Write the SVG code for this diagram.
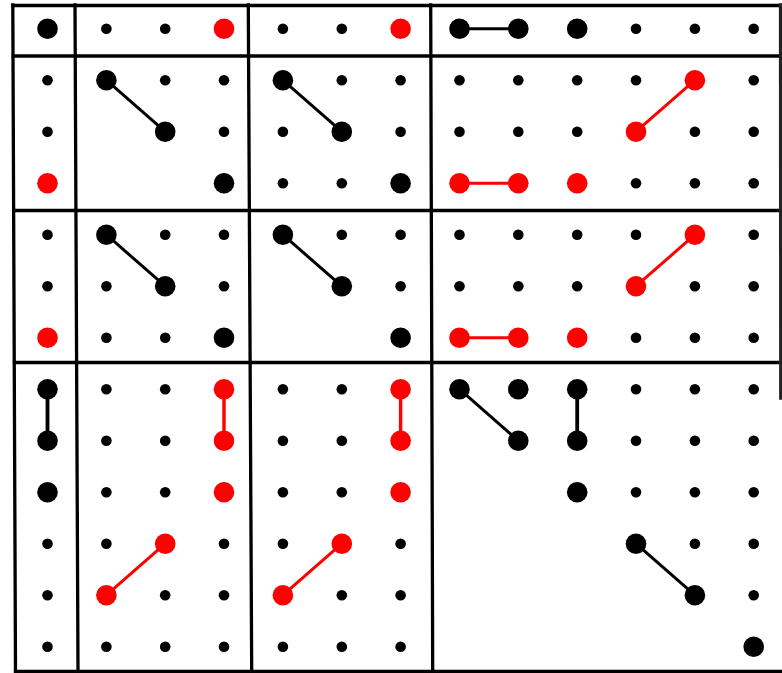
<svg xmlns="http://www.w3.org/2000/svg" width="782" height="673" viewBox="0 0 782 673">
<style>
.frame line{stroke:#000;stroke-width:3.3;stroke-linecap:square}
.s{fill:#000}
.b{fill:#000}
.r{fill:#ff0000}
.ck{stroke:#000;stroke-width:3;fill:none}
.cr{stroke:#ff0000;stroke-width:3;fill:none}
</style>
<rect width="782" height="673" fill="#fff"/>
<g id="frame" class="frame">
<line x1="13" y1="5.5" x2="780.5" y2="5.5"/>
<line x1="13.3" y1="56" x2="780.5" y2="56"/>
<line x1="14" y1="210.5" x2="782" y2="210.5"/>
<line x1="14.5" y1="362.5" x2="782" y2="362.5"/>
<line x1="15.5" y1="671.5" x2="782" y2="671.5"/>
<line x1="12.8" y1="5" x2="15.5" y2="671"/>
<line x1="75" y1="5" x2="78" y2="671"/>
<line x1="248.3" y1="5" x2="251.7" y2="671"/>
<line x1="430.7" y1="5" x2="432.7" y2="671"/>
<line x1="780.5" y1="5" x2="780.8" y2="398" style="stroke:#222"/>
</g>
<g id="connectors">
<line class="ck" x1="459.5" y1="28.7" x2="518.3" y2="28.7"/>
<line class="ck" x1="106.4" y1="80.2" x2="165.2" y2="131.7"/>
<line class="ck" x1="282.9" y1="80.2" x2="341.8" y2="131.7"/>
<line class="ck" x1="106.4" y1="234.7" x2="165.2" y2="286.2"/>
<line class="ck" x1="282.9" y1="234.7" x2="341.8" y2="286.2"/>
<line class="ck" x1="47.5" y1="389.2" x2="47.5" y2="440.7" style="stroke-width:3.8"/>
<line class="ck" x1="459.5" y1="389.2" x2="518.3" y2="440.7"/>
<line class="ck" x1="577.2" y1="389.2" x2="577.2" y2="440.7" style="stroke-width:3.8"/>
<line class="ck" x1="636" y1="543.7" x2="694.9" y2="595.2"/>
<line class="cr" x1="694.9" y1="80.2" x2="636" y2="131.7"/>
<line class="cr" x1="459.5" y1="183.2" x2="518.3" y2="183.2"/>
<line class="cr" x1="694.9" y1="234.7" x2="636" y2="286.2"/>
<line class="cr" x1="459.5" y1="337.7" x2="518.3" y2="337.7"/>
<line class="cr" x1="224" y1="389.2" x2="224" y2="440.7" style="stroke-width:3.4"/>
<line class="cr" x1="400.6" y1="389.2" x2="400.6" y2="440.7" style="stroke-width:3.4"/>
<line class="cr" x1="165.2" y1="543.7" x2="106.4" y2="595.2"/>
<line class="cr" x1="341.8" y1="543.7" x2="282.9" y2="595.2"/>
</g>
<g id="nodes">
<!-- row 0 -->
<g id="n0-0"><circle class="b" cx="47.5" cy="28.7" r="10.3"/></g>
<g id="n0-1"><circle class="s" cx="106.4" cy="28.7" r="5.3"/></g>
<g id="n0-2"><circle class="s" cx="165.2" cy="28.7" r="5.3"/></g>
<g id="n0-3"><circle class="r" cx="224" cy="28.7" r="10.3"/></g>
<g id="n0-4"><circle class="s" cx="282.9" cy="28.7" r="5.3"/></g>
<g id="n0-5"><circle class="s" cx="341.8" cy="28.7" r="5.3"/></g>
<g id="n0-6"><circle class="r" cx="400.6" cy="28.7" r="10.3"/></g>
<g id="n0-7"><circle class="b" cx="459.5" cy="28.7" r="10.3"/></g>
<g id="n0-8"><circle class="b" cx="518.3" cy="28.7" r="10.3"/></g>
<g id="n0-9"><circle class="b" cx="577.2" cy="28.7" r="10.3"/></g>
<g id="n0-10"><circle class="s" cx="636" cy="28.7" r="5.3"/></g>
<g id="n0-11"><circle class="s" cx="694.9" cy="28.7" r="5.3"/></g>
<g id="n0-12"><circle class="s" cx="753.7" cy="28.7" r="5.3"/></g>
<!-- row 1 -->
<g id="n1-0"><circle class="s" cx="47.5" cy="80.2" r="5.3"/></g>
<g id="n1-1"><circle class="b" cx="106.4" cy="80.2" r="10.3"/></g>
<g id="n1-2"><circle class="s" cx="165.2" cy="80.2" r="5.3"/></g>
<g id="n1-3"><circle class="s" cx="224" cy="80.2" r="5.3"/></g>
<g id="n1-4"><circle class="b" cx="282.9" cy="80.2" r="10.3"/></g>
<g id="n1-5"><circle class="s" cx="341.8" cy="80.2" r="5.3"/></g>
<g id="n1-6"><circle class="s" cx="400.6" cy="80.2" r="5.3"/></g>
<g id="n1-7"><circle class="s" cx="459.5" cy="80.2" r="5.3"/></g>
<g id="n1-8"><circle class="s" cx="518.3" cy="80.2" r="5.3"/></g>
<g id="n1-9"><circle class="s" cx="577.2" cy="80.2" r="5.3"/></g>
<g id="n1-10"><circle class="s" cx="636" cy="80.2" r="5.3"/></g>
<g id="n1-11"><circle class="r" cx="694.9" cy="80.2" r="10.3"/></g>
<g id="n1-12"><circle class="s" cx="753.7" cy="80.2" r="5.3"/></g>
<!-- row 2 -->
<g id="n2-0"><circle class="s" cx="47.5" cy="131.7" r="5.3"/></g>
<g id="n2-2"><circle class="b" cx="165.2" cy="131.7" r="10.3"/></g>
<g id="n2-3"><circle class="s" cx="224" cy="131.7" r="5.3"/></g>
<g id="n2-4"><circle class="s" cx="282.9" cy="131.7" r="5.3"/></g>
<g id="n2-5"><circle class="b" cx="341.8" cy="131.7" r="10.3"/></g>
<g id="n2-6"><circle class="s" cx="400.6" cy="131.7" r="5.3"/></g>
<g id="n2-7"><circle class="s" cx="459.5" cy="131.7" r="5.3"/></g>
<g id="n2-8"><circle class="s" cx="518.3" cy="131.7" r="5.3"/></g>
<g id="n2-9"><circle class="s" cx="577.2" cy="131.7" r="5.3"/></g>
<g id="n2-10"><circle class="r" cx="636" cy="131.7" r="10.3"/></g>
<g id="n2-11"><circle class="s" cx="694.9" cy="131.7" r="5.3"/></g>
<g id="n2-12"><circle class="s" cx="753.7" cy="131.7" r="5.3"/></g>
<!-- row 3 -->
<g id="n3-0"><circle class="r" cx="47.5" cy="183.2" r="10.3"/></g>
<g id="n3-3"><circle class="b" cx="224" cy="183.2" r="10.3"/></g>
<g id="n3-4"><circle class="s" cx="282.9" cy="183.2" r="5.3"/></g>
<g id="n3-5"><circle class="s" cx="341.8" cy="183.2" r="5.3"/></g>
<g id="n3-6"><circle class="b" cx="400.6" cy="183.2" r="10.3"/></g>
<g id="n3-7"><circle class="r" cx="459.5" cy="183.2" r="10.3"/></g>
<g id="n3-8"><circle class="r" cx="518.3" cy="183.2" r="10.3"/></g>
<g id="n3-9"><circle class="r" cx="577.2" cy="183.2" r="10.3"/></g>
<g id="n3-10"><circle class="s" cx="636" cy="183.2" r="5.3"/></g>
<g id="n3-11"><circle class="s" cx="694.9" cy="183.2" r="5.3"/></g>
<g id="n3-12"><circle class="s" cx="753.7" cy="183.2" r="5.3"/></g>
<!-- row 4 -->
<g id="n4-0"><circle class="s" cx="47.5" cy="234.7" r="5.3"/></g>
<g id="n4-1"><circle class="b" cx="106.4" cy="234.7" r="10.3"/></g>
<g id="n4-2"><circle class="s" cx="165.2" cy="234.7" r="5.3"/></g>
<g id="n4-3"><circle class="s" cx="224" cy="234.7" r="5.3"/></g>
<g id="n4-4"><circle class="b" cx="282.9" cy="234.7" r="10.3"/></g>
<g id="n4-5"><circle class="s" cx="341.8" cy="234.7" r="5.3"/></g>
<g id="n4-6"><circle class="s" cx="400.6" cy="234.7" r="5.3"/></g>
<g id="n4-7"><circle class="s" cx="459.5" cy="234.7" r="5.3"/></g>
<g id="n4-8"><circle class="s" cx="518.3" cy="234.7" r="5.3"/></g>
<g id="n4-9"><circle class="s" cx="577.2" cy="234.7" r="5.3"/></g>
<g id="n4-10"><circle class="s" cx="636" cy="234.7" r="5.3"/></g>
<g id="n4-11"><circle class="r" cx="694.9" cy="234.7" r="10.3"/></g>
<g id="n4-12"><circle class="s" cx="753.7" cy="234.7" r="5.3"/></g>
<!-- row 5 -->
<g id="n5-0"><circle class="s" cx="47.5" cy="286.2" r="5.3"/></g>
<g id="n5-1"><circle class="s" cx="106.4" cy="286.2" r="5.3"/></g>
<g id="n5-2"><circle class="b" cx="165.2" cy="286.2" r="10.3"/></g>
<g id="n5-3"><circle class="s" cx="224" cy="286.2" r="5.3"/></g>
<g id="n5-5"><circle class="b" cx="341.8" cy="286.2" r="10.3"/></g>
<g id="n5-6"><circle class="s" cx="400.6" cy="286.2" r="5.3"/></g>
<g id="n5-7"><circle class="s" cx="459.5" cy="286.2" r="5.3"/></g>
<g id="n5-8"><circle class="s" cx="518.3" cy="286.2" r="5.3"/></g>
<g id="n5-9"><circle class="s" cx="577.2" cy="286.2" r="5.3"/></g>
<g id="n5-10"><circle class="r" cx="636" cy="286.2" r="10.3"/></g>
<g id="n5-11"><circle class="s" cx="694.9" cy="286.2" r="5.3"/></g>
<g id="n5-12"><circle class="s" cx="753.7" cy="286.2" r="5.3"/></g>
<!-- row 6 -->
<g id="n6-0"><circle class="r" cx="47.5" cy="337.7" r="10.3"/></g>
<g id="n6-1"><circle class="s" cx="106.4" cy="337.7" r="5.3"/></g>
<g id="n6-2"><circle class="s" cx="165.2" cy="337.7" r="5.3"/></g>
<g id="n6-3"><circle class="b" cx="224" cy="337.7" r="10.3"/></g>
<g id="n6-6"><circle class="b" cx="400.6" cy="337.7" r="10.3"/></g>
<g id="n6-7"><circle class="r" cx="459.5" cy="337.7" r="10.3"/></g>
<g id="n6-8"><circle class="r" cx="518.3" cy="337.7" r="10.3"/></g>
<g id="n6-9"><circle class="r" cx="577.2" cy="337.7" r="10.3"/></g>
<g id="n6-10"><circle class="s" cx="636" cy="337.7" r="5.3"/></g>
<g id="n6-11"><circle class="s" cx="694.9" cy="337.7" r="5.3"/></g>
<g id="n6-12"><circle class="s" cx="753.7" cy="337.7" r="5.3"/></g>
<!-- row 7 -->
<g id="n7-0"><circle class="b" cx="47.5" cy="389.2" r="10.3"/></g>
<g id="n7-1"><circle class="s" cx="106.4" cy="389.2" r="5.3"/></g>
<g id="n7-2"><circle class="s" cx="165.2" cy="389.2" r="5.3"/></g>
<g id="n7-3"><circle class="r" cx="224" cy="389.2" r="10.3"/></g>
<g id="n7-4"><circle class="s" cx="282.9" cy="389.2" r="5.3"/></g>
<g id="n7-5"><circle class="s" cx="341.8" cy="389.2" r="5.3"/></g>
<g id="n7-6"><circle class="r" cx="400.6" cy="389.2" r="10.3"/></g>
<g id="n7-7"><circle class="b" cx="459.5" cy="389.2" r="10.3"/></g>
<g id="n7-8"><circle class="b" cx="518.3" cy="389.2" r="10.3"/></g>
<g id="n7-9"><circle class="b" cx="577.2" cy="389.2" r="10.3"/></g>
<g id="n7-10"><circle class="s" cx="636" cy="389.2" r="5.3"/></g>
<g id="n7-11"><circle class="s" cx="694.9" cy="389.2" r="5.3"/></g>
<g id="n7-12"><circle class="s" cx="753.7" cy="389.2" r="5.3"/></g>
<!-- row 8 -->
<g id="n8-0"><circle class="b" cx="47.5" cy="440.7" r="10.3"/></g>
<g id="n8-1"><circle class="s" cx="106.4" cy="440.7" r="5.3"/></g>
<g id="n8-2"><circle class="s" cx="165.2" cy="440.7" r="5.3"/></g>
<g id="n8-3"><circle class="r" cx="224" cy="440.7" r="10.3"/></g>
<g id="n8-4"><circle class="s" cx="282.9" cy="440.7" r="5.3"/></g>
<g id="n8-5"><circle class="s" cx="341.8" cy="440.7" r="5.3"/></g>
<g id="n8-6"><circle class="r" cx="400.6" cy="440.7" r="10.3"/></g>
<g id="n8-8"><circle class="b" cx="518.3" cy="440.7" r="10.3"/></g>
<g id="n8-9"><circle class="b" cx="577.2" cy="440.7" r="10.3"/></g>
<g id="n8-10"><circle class="s" cx="636" cy="440.7" r="5.3"/></g>
<g id="n8-11"><circle class="s" cx="694.9" cy="440.7" r="5.3"/></g>
<g id="n8-12"><circle class="s" cx="753.7" cy="440.7" r="5.3"/></g>
<!-- row 9 -->
<g id="n9-0"><circle class="b" cx="47.5" cy="492.2" r="10.3"/></g>
<g id="n9-1"><circle class="s" cx="106.4" cy="492.2" r="5.3"/></g>
<g id="n9-2"><circle class="s" cx="165.2" cy="492.2" r="5.3"/></g>
<g id="n9-3"><circle class="r" cx="224" cy="492.2" r="10.3"/></g>
<g id="n9-4"><circle class="s" cx="282.9" cy="492.2" r="5.3"/></g>
<g id="n9-5"><circle class="s" cx="341.8" cy="492.2" r="5.3"/></g>
<g id="n9-6"><circle class="r" cx="400.6" cy="492.2" r="10.3"/></g>
<g id="n9-9"><circle class="b" cx="577.2" cy="492.2" r="10.3"/></g>
<g id="n9-10"><circle class="s" cx="636" cy="492.2" r="5.3"/></g>
<g id="n9-11"><circle class="s" cx="694.9" cy="492.2" r="5.3"/></g>
<g id="n9-12"><circle class="s" cx="753.7" cy="492.2" r="5.3"/></g>
<!-- row 10 -->
<g id="n10-0"><circle class="s" cx="47.5" cy="543.7" r="5.3"/></g>
<g id="n10-1"><circle class="s" cx="106.4" cy="543.7" r="5.3"/></g>
<g id="n10-2"><circle class="r" cx="165.2" cy="543.7" r="10.3"/></g>
<g id="n10-3"><circle class="s" cx="224" cy="543.7" r="5.3"/></g>
<g id="n10-4"><circle class="s" cx="282.9" cy="543.7" r="5.3"/></g>
<g id="n10-5"><circle class="r" cx="341.8" cy="543.7" r="10.3"/></g>
<g id="n10-6"><circle class="s" cx="400.6" cy="543.7" r="5.3"/></g>
<g id="n10-10"><circle class="b" cx="636" cy="543.7" r="10.3"/></g>
<g id="n10-11"><circle class="s" cx="694.9" cy="543.7" r="5.3"/></g>
<g id="n10-12"><circle class="s" cx="753.7" cy="543.7" r="5.3"/></g>
<!-- row 11 -->
<g id="n11-0"><circle class="s" cx="47.5" cy="595.2" r="5.3"/></g>
<g id="n11-1"><circle class="r" cx="106.4" cy="595.2" r="10.3"/></g>
<g id="n11-2"><circle class="s" cx="165.2" cy="595.2" r="5.3"/></g>
<g id="n11-3"><circle class="s" cx="224" cy="595.2" r="5.3"/></g>
<g id="n11-4"><circle class="r" cx="282.9" cy="595.2" r="10.3"/></g>
<g id="n11-5"><circle class="s" cx="341.8" cy="595.2" r="5.3"/></g>
<g id="n11-6"><circle class="s" cx="400.6" cy="595.2" r="5.3"/></g>
<g id="n11-11"><circle class="b" cx="694.9" cy="595.2" r="10.3"/></g>
<g id="n11-12"><circle class="s" cx="753.7" cy="595.2" r="5.3"/></g>
<!-- row 12 -->
<g id="n12-0"><circle class="s" cx="47.5" cy="646.7" r="5.3"/></g>
<g id="n12-1"><circle class="s" cx="106.4" cy="646.7" r="5.3"/></g>
<g id="n12-2"><circle class="s" cx="165.2" cy="646.7" r="5.3"/></g>
<g id="n12-3"><circle class="s" cx="224" cy="646.7" r="5.3"/></g>
<g id="n12-4"><circle class="s" cx="282.9" cy="646.7" r="5.3"/></g>
<g id="n12-5"><circle class="s" cx="341.8" cy="646.7" r="5.3"/></g>
<g id="n12-6"><circle class="s" cx="400.6" cy="646.7" r="5.3"/></g>
<g id="n12-12"><circle class="b" cx="753.7" cy="646.7" r="10.3"/></g>
</g>
</svg>
